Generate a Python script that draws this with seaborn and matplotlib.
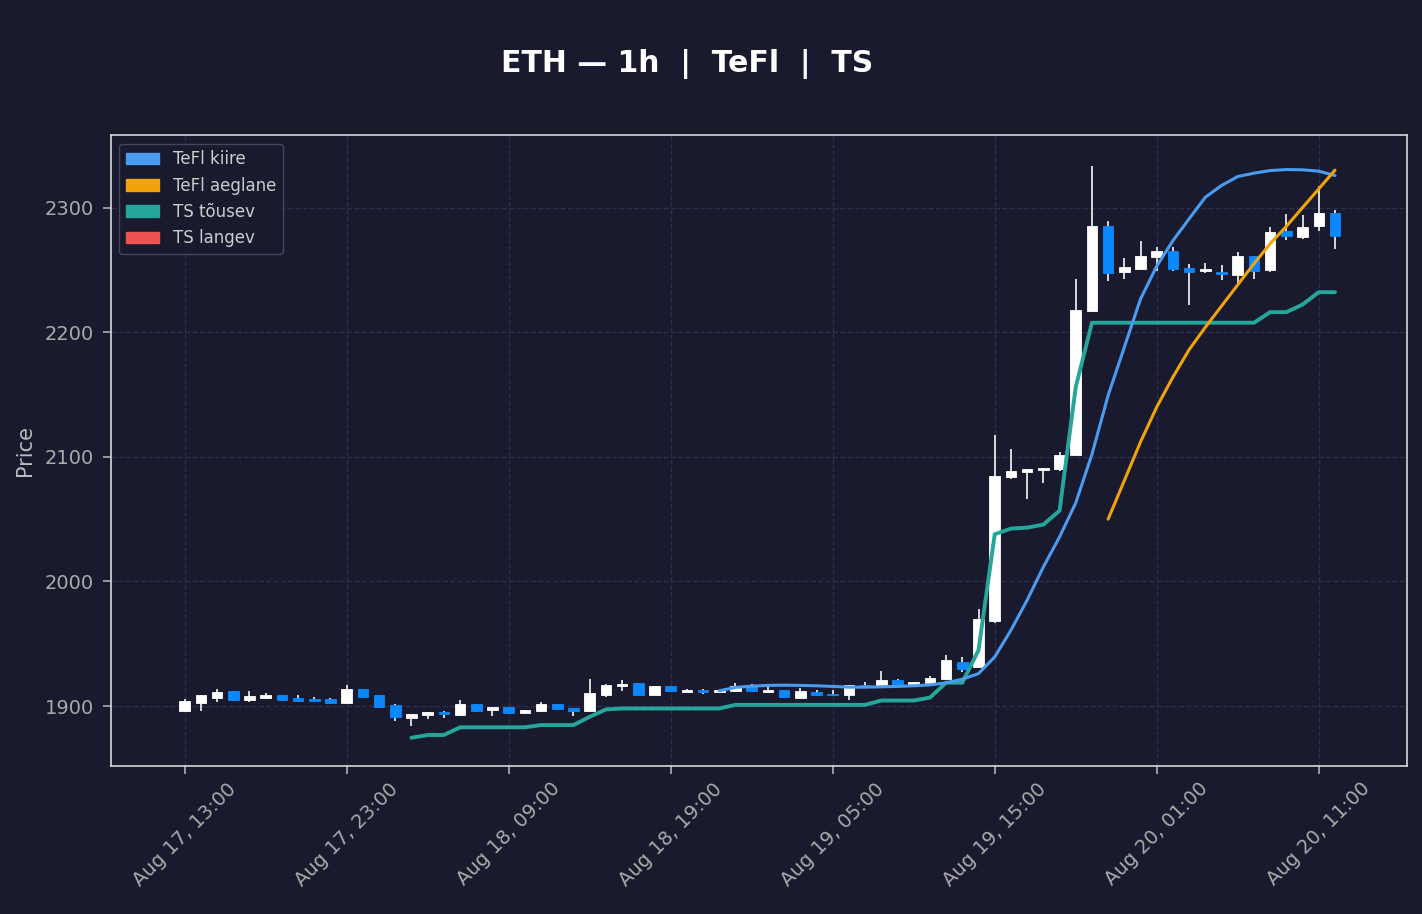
import numpy as np
import pandas as pd
import matplotlib
matplotlib.use("Agg")
import matplotlib.pyplot as plt
import matplotlib.dates as mdates
from matplotlib.patches import Patch
import seaborn as sns

# hourly ETH candles, Aug 17 13:00 -> Aug 20 12:00
times = pd.date_range("2024-08-17 13:00", periods=72, freq="h")

opens = [1896.2, 1902.7, 1906.7, 1912.0, 1904.8, 1906.7, 1908.8, 1906.4, 1905.6, 1905.6,
         1902.7, 1913.4, 1908.8, 1900.5, 1890.6, 1892.5, 1895.4, 1893.0, 1901.6, 1896.5,
         1899.2, 1894.6, 1895.8, 1901.4, 1898.1, 1895.8, 1909.0, 1916.0, 1918.4, 1909.3,
         1915.8, 1911.5, 1912.6, 1911.0, 1911.8, 1916.8, 1911.0, 1912.6, 1906.2, 1911.2,
         1909.9, 1908.7, 1917.1, 1915.8, 1920.8, 1917.0, 1918.2, 1921.4, 1935.4, 1931.0,
         1968.1, 2083.8, 2088.1, 2089.4, 2090.2, 2101.6, 2216.9, 2285.3, 2248.1, 2250.9,
         2260.1, 2265.5, 2251.7, 2249.5, 2248.5, 2246.1, 2261.3, 2250.1, 2280.8, 2276.5,
         2284.9, 2295.5]
highs = [1906.0, 1908.8, 1913.6, 1912.3, 1912.0, 1910.4, 1909.2, 1908.8, 1907.2, 1906.2,
         1916.8, 1913.6, 1909.0, 1901.6, 1893.5, 1895.4, 1896.2, 1904.8, 1902.0, 1899.2,
         1899.5, 1897.0, 1903.2, 1901.8, 1898.4, 1921.6, 1917.6, 1920.6, 1918.7, 1916.1,
         1916.1, 1914.0, 1914.0, 1913.2, 1918.6, 1917.8, 1915.8, 1912.9, 1914.6, 1912.8,
         1912.8, 1917.0, 1919.5, 1928.0, 1921.6, 1919.3, 1924.3, 1940.9, 1939.3, 1978.0,
         2117.2, 2106.0, 2090.5, 2091.2, 2104.0, 2242.3, 2333.7, 2289.6, 2259.6, 2272.8,
         2268.0, 2268.0, 2254.9, 2255.7, 2254.0, 2264.7, 2261.5, 2284.8, 2294.7, 2293.9,
         2317.2, 2298.2]
lows = [1895.0, 1896.2, 1903.2, 1904.0, 1903.2, 1905.6, 1904.3, 1903.2, 1903.8, 1901.8,
        1902.4, 1907.2, 1898.6, 1888.0, 1884.0, 1889.8, 1890.7, 1892.0, 1895.4, 1892.0,
        1894.0, 1894.3, 1895.5, 1897.0, 1892.0, 1895.5, 1907.5, 1912.3, 1909.0, 1909.0,
        1911.5, 1911.3, 1909.8, 1910.7, 1911.5, 1912.0, 1910.8, 1906.2, 1906.0, 1908.5,
        1908.5, 1904.8, 1915.3, 1915.5, 1916.2, 1916.8, 1918.0, 1921.0, 1927.0, 1930.5,
        1966.8, 2082.2, 2066.0, 2079.0, 2088.4, 2101.2, 2216.3, 2241.0, 2242.5, 2250.5,
        2248.8, 2248.8, 2222.0, 2247.5, 2242.0, 2237.5, 2242.8, 2247.9, 2274.0, 2275.0,
        2281.2, 2266.6]
closes = [1904.0, 1908.6, 1911.0, 1904.8, 1908.0, 1908.8, 1904.8, 1904.3, 1904.3, 1902.4,
          1913.4, 1907.5, 1899.5, 1890.9, 1893.3, 1895.2, 1893.3, 1901.6, 1896.2, 1898.9,
          1894.6, 1896.5, 1901.4, 1897.4, 1895.8, 1910.2, 1916.6, 1917.9, 1909.3, 1915.8,
          1911.8, 1912.6, 1911.0, 1912.6, 1916.3, 1912.3, 1912.9, 1907.0, 1912.0, 1909.3,
          1908.7, 1916.6, 1915.5, 1920.8, 1917.0, 1919.0, 1922.4, 1936.9, 1930.1, 1969.5,
          2084.9, 2088.9, 2090.2, 2091.0, 2101.6, 2218.0, 2285.3, 2247.6, 2252.4, 2261.3,
          2265.5, 2250.9, 2248.5, 2250.5, 2246.9, 2261.3, 2249.5, 2280.0, 2276.8, 2284.1,
          2295.5, 2277.3]

# TeFl fast, starts at Aug 18 22:00 (index 33)
tefl_fast = [1912.3, 1915.0, 1916.0, 1916.6, 1916.8, 1916.6, 1916.3, 1915.8, 1915.2, 1915.2,
             1915.5, 1915.8, 1916.3, 1917.0, 1918.7, 1921.6, 1926.1, 1939.5, 1960.9, 1985.0,
             2011.6, 2035.7, 2063.0, 2102.0, 2149.3, 2188.0, 2226.7, 2253.0, 2273.5, 2291.0,
             2308.3, 2317.7, 2324.9, 2327.6, 2329.7, 2330.5, 2330.3, 2329.2, 2325.7]
# TeFl slow, starts at Aug 19 22:00 (index 57)
tefl_slow = [2050.0, 2081.0, 2112.0, 2140.0, 2164.0, 2186.0, 2204.0, 2221.0, 2238.0, 2255.0,
             2271.0, 2285.0, 2300.0, 2315.0, 2330.0]
# TS rising, starts at Aug 18 03:00 (index 14)
ts_up = [1874.6, 1876.8, 1876.8, 1883.0, 1883.0, 1883.0, 1883.0, 1883.0, 1884.8, 1884.8,
         1884.8, 1891.4, 1897.3, 1898.1, 1898.1, 1898.1, 1898.1, 1898.1, 1898.1, 1898.1,
         1901.0, 1901.0, 1901.0, 1901.0, 1901.0, 1901.0, 1901.0, 1901.0, 1901.0, 1904.5,
         1904.5, 1904.5, 1906.8, 1918.8, 1918.8, 1944.9, 2037.9, 2042.4, 2043.2, 2045.6,
         2056.8, 2156.0, 2207.6, 2207.6, 2207.6, 2207.6, 2207.6, 2207.6, 2207.6, 2207.6,
         2207.6, 2207.6, 2207.6, 2216.1, 2216.1, 2222.2, 2232.1, 2232.1]

legend_labels = ["TeFl kiire", "TeFl aeglane", "TS tõusev", "TS langev"]

bg = "#1a1a2e"
c_up = "#ffffff"
c_down = "#0a88ff"
c_fast = "#4a9cf0"
c_slow = "#f0a30a"
c_ts_up = "#26a69a"
c_ts_dn = "#ef5350"

sns.set_theme(style="dark", rc={
    "figure.facecolor": bg,
    "axes.facecolor": bg,
    "axes.edgecolor": "#d8d8d8",
    "axes.grid": True,
    "grid.color": "#2e2e4e",
    "grid.linestyle": "--",
    "xtick.bottom": True,
    "ytick.left": True,
    "xtick.color": "#aaaaaa",
    "ytick.color": "#aaaaaa",
    "axes.labelcolor": "#bbbbbb",
})
plt.rcParams["font.family"] = ["DejaVu Sans"]

fig, ax = plt.subplots(figsize=(14.22, 9.14), dpi=100)
fig.subplots_adjust(left=0.078, right=0.9895, top=0.852, bottom=0.162)

o = np.array(opens)
c = np.array(closes)
cols = [c_up if cc >= oo else c_down for oo, cc in zip(o, c)]
body_lo = np.minimum(o, c)
body_h = np.maximum(np.abs(c - o), 0.9)

ax.vlines(times, lows, highs, color="#e6e6e6", lw=1.3, zorder=2)
ax.bar(times, body_h, bottom=body_lo, width=0.65 / 24, color=cols,
       edgecolor=cols, lw=0.6, zorder=3)

sns.lineplot(x=times[14:], y=ts_up, ax=ax, color=c_ts_up, lw=2.8, zorder=4)
sns.lineplot(x=times[33:], y=tefl_fast, ax=ax, color=c_fast, lw=2.2, zorder=5)
sns.lineplot(x=times[57:], y=tefl_slow, ax=ax, color=c_slow, lw=2.2, zorder=5)

ax.set_xlim(times[0] - pd.Timedelta(hours=4.55), times[-1] + pd.Timedelta(hours=4.45))
ax.set_ylim(1852, 2358)
ax.set_xticks(times[::10])
ax.xaxis.set_major_formatter(mdates.DateFormatter("%b %d, %H:%M"))
plt.setp(ax.get_xticklabels(), rotation=45)
ax.tick_params(axis="both", labelsize=14, length=6, color="#aaaaaa")
ax.tick_params(axis="y", pad=6)
ax.set_xlabel("")
ax.set_ylabel("Price", fontsize=15, labelpad=7)
for s in ax.spines.values():
    s.set_color("#d8d8d8")
    s.set_linewidth(1.2)

handles = [Patch(color=col) for col in [c_fast, c_slow, c_ts_up, c_ts_dn]]
leg = ax.legend(handles, legend_labels, loc="upper left", fontsize=12,
                facecolor=bg, edgecolor="#4a4a66", framealpha=0.9)
for t in leg.get_texts():
    t.set_color("#cccccc")

fig.suptitle("ETH — 1h  |  TeFl  |  TS", fontsize=21.5, fontweight="bold",
             color="white", x=0.4835, y=0.9465)

fig.savefig("out.png", dpi=100, facecolor=bg)
